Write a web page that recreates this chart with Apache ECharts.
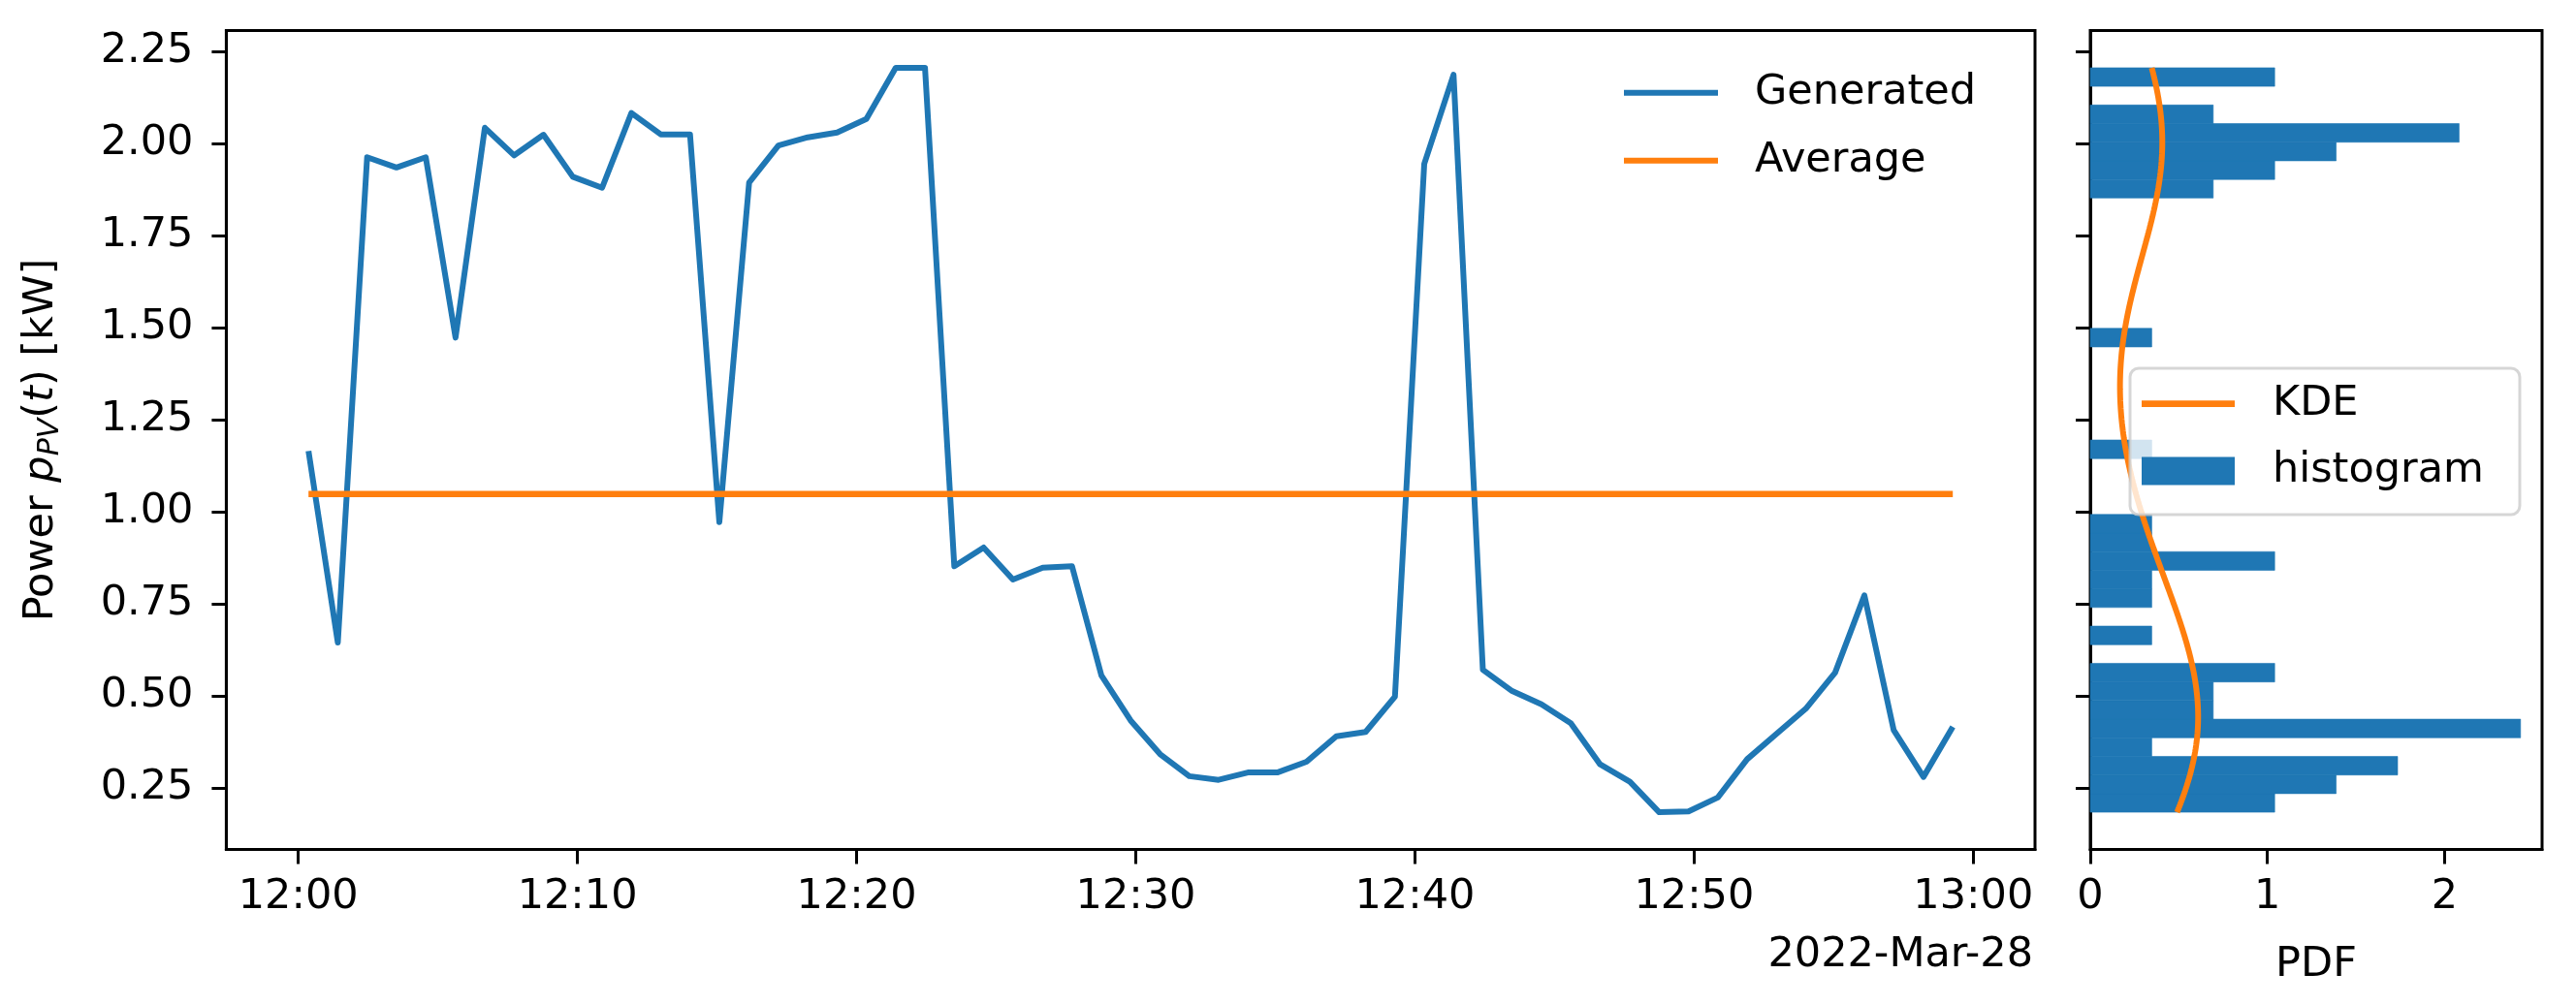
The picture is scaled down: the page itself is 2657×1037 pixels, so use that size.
<!DOCTYPE html>
<html>
<head>
<meta charset="utf-8">
<script src="https://cdn.jsdelivr.net/npm/echarts@6/dist/echarts.min.js"></script>
<style>
html,body{margin:0;padding:0;background:#fff;}
#chart{width:2657px;height:1037px;}
</style>
</head>
<body>
<div id="chart"></div>
<script>
// ---------------- data ----------------
const dateLabel = '2022-Mar-28';
const times = [
  '12:00:22','12:01:25','12:02:28','12:03:31','12:04:34','12:05:38','12:06:41','12:07:44','12:08:47','12:09:50',
  '12:10:53','12:11:56','12:12:59','12:14:02','12:15:05','12:16:09','12:17:12','12:18:15','12:19:18','12:20:21',
  '12:21:24','12:22:27','12:23:30','12:24:33','12:25:36','12:26:40','12:27:43','12:28:46','12:29:49','12:30:52',
  '12:31:55','12:32:58','12:34:01','12:35:04','12:36:07','12:37:11','12:38:14','12:39:17','12:40:20','12:41:23',
  '12:42:26','12:43:29','12:44:32','12:45:35','12:46:38','12:47:42','12:48:45','12:49:48','12:50:51','12:51:54',
  '12:52:57','12:54:00','12:55:03','12:56:06','12:57:09','12:58:13','12:59:16'
];
const power = [
  1.165,0.645,1.963,1.935,1.963,1.473,2.043,1.968,2.024,1.910,
  1.880,2.083,2.025,2.025,0.972,1.894,1.995,2.017,2.030,2.067,
  2.206,2.206,0.852,0.903,0.816,0.848,0.852,0.556,0.433,0.342,
  0.282,0.272,0.292,0.292,0.321,0.390,0.402,0.498,1.945,2.187,
  0.571,0.513,0.477,0.426,0.314,0.267,0.184,0.186,0.224,0.328,
  0.397,0.465,0.563,0.773,0.407,0.280,0.416
];
const xTickLabels = ['12:00','12:10','12:20','12:30','12:40','12:50','13:00'];
const yTicks = [0.25,0.50,0.75,1.00,1.25,1.50,1.75,2.00,2.25];
const pdfTicks = [0,1,2];
const seriesNames = ['Generated','Average','KDE','histogram'];
const histBins = 40;

// ---------------- derived ----------------
const FONT = 'DejaVu Sans';
const BLUE = '#1f77b4', ORANGE = '#ff7f0e';
function toMs(hms){ const p = hms.split(':').map(Number); return Date.UTC(2022,2,28,p[0],p[1],p[2]||0); }
const tMs = times.map(toMs);
const genData = tMs.map((t,i)=>[t,power[i]]);
const n = power.length;
const mean = power.reduce((a,b)=>a+b,0)/n;
const avgData = [[tMs[0],mean],[tMs[n-1],mean]];

const pMin = Math.min(...power), pMax = Math.max(...power);
const yPad = (pMax-pMin)*0.05;
const yMin = pMin-yPad, yMax = pMax+yPad;
const tMin = tMs[0], tMax = tMs[n-1];
const xPad = (tMax-tMin)*0.05;
const xTickVals = xTickLabels.map(l=>toMs(l+':00'));

// histogram (density)
const bw = (pMax-pMin)/histBins;
const counts = new Array(histBins).fill(0);
power.forEach(v=>{ let k = Math.floor((v-pMin)/bw); if(k>=histBins) k = histBins-1; if(k<0) k=0; counts[k]++; });
const histData = [];
counts.forEach((c,k)=>{ if(c>0) histData.push([pMin+k*bw, pMin+(k+1)*bw, c/(n*bw)]); });
const maxDens = Math.max(...histData.map(d=>d[2]));

// Gaussian KDE (Scott's rule)
const variance = power.reduce((a,v)=>a+(v-mean)*(v-mean),0)/(n-1);
const h = Math.sqrt(variance)*Math.pow(n,-1/5);
const kdeData = [];
const NK = 200;
for(let i=0;i<NK;i++){
  const y = pMin+(pMax-pMin)*i/(NK-1);
  let s = 0;
  for(const v of power){ const z=(y-v)/h; s += Math.exp(-0.5*z*z); }
  kdeData.push([s/(n*h*Math.sqrt(2*Math.PI)), y]);
}

// ---------------- chart ----------------
const chart = echarts.init(document.getElementById('chart'), null, {renderer:'canvas'});
const axisLineStyle = {show:true, onZero:false, lineStyle:{color:'#000', width:3}};
const tickStyle = {show:true, length:15, inside:false, lineStyle:{color:'#000', width:3}};
const labelFont = {fontFamily:FONT, fontSize:43, color:'#000'};

const option = {
  animation:false,
  backgroundColor:'#fff',
  title:{
    text:dateLabel, right:560, top:964, padding:0,
    textStyle:{fontFamily:FONT, fontSize:43, fontWeight:'normal', color:'#000'}
  },
  grid:[
    {left:233.4, top:31.5, width:1865.6, height:845, show:true, borderColor:'#000', borderWidth:3, backgroundColor:'transparent'},
    {left:2156, top:31.5, width:466, height:845, show:true, borderColor:'#000', borderWidth:3, backgroundColor:'transparent'}
  ],
  xAxis:[
    {type:'value', gridIndex:0, min:tMin-xPad, max:tMax+xPad,
     axisLine:axisLineStyle, splitLine:{show:false},
     axisTick:Object.assign({}, tickStyle, {customValues:xTickVals}),
     axisLabel:Object.assign({}, labelFont, {margin:28, customValues:xTickVals,
       formatter:(v)=>{ const i = xTickVals.indexOf(v); return i>=0 ? xTickLabels[i] : ''; }})},
    {type:'value', gridIndex:1, min:0, max:maxDens*1.05,
     name:'PDF', nameLocation:'middle', nameGap:98,
     nameTextStyle:{fontFamily:FONT, fontSize:43, color:'#000'},
     axisLine:axisLineStyle, splitLine:{show:false},
     axisTick:Object.assign({}, tickStyle, {customValues:pdfTicks}),
     axisLabel:Object.assign({}, labelFont, {margin:28, customValues:pdfTicks, formatter:(v)=>String(v)})}
  ],
  yAxis:[
    {type:'value', gridIndex:0, min:yMin, max:yMax,
     name:'Power {it|p}{sub|PV}({it|t}) [kW]', nameLocation:'middle', nameGap:166, nameRotate:90,
     nameTextStyle:{fontFamily:FONT, fontSize:43, color:'#000', lineHeight:50,
       rich:{
         it:{fontFamily:FONT, fontSize:43, fontStyle:'italic', color:'#000', lineHeight:50},
         sub:{fontFamily:FONT, fontSize:30, fontStyle:'italic', color:'#000', lineHeight:36, verticalAlign:'bottom'}
       }},
     axisLine:axisLineStyle, splitLine:{show:false},
     axisTick:Object.assign({}, tickStyle, {customValues:yTicks}),
     axisLabel:Object.assign({}, labelFont, {margin:34, customValues:yTicks, formatter:(v)=>v.toFixed(2)})},
    {type:'value', gridIndex:1, min:yMin, max:yMax,
     axisLine:axisLineStyle, splitLine:{show:false},
     axisTick:Object.assign({}, tickStyle, {customValues:yTicks}),
     axisLabel:{show:false}}
  ],
  legend:[
    {data:[
       {name:seriesNames[0], icon:'rect', itemStyle:{color:BLUE, borderWidth:0}},
       {name:seriesNames[1], icon:'rect', itemStyle:{color:ORANGE, borderWidth:0}}
     ],
     orient:'vertical', left:1675, top:70.7, padding:0, itemWidth:97, itemHeight:6, itemGap:20,
     selectedMode:false,
     textStyle:{fontFamily:FONT, fontSize:43, color:'#000', lineHeight:50, padding:[0,0,0,33]}},
    {data:[
       {name:seriesNames[2], icon:'path://M0,0H100V7H0Z', itemStyle:{color:ORANGE, borderWidth:0}},
       {name:seriesNames[3], icon:'rect', itemStyle:{color:BLUE, borderWidth:0}}
     ],
     orient:'vertical', left:2197, top:380, padding:[11.7,37,20,12], itemWidth:96, itemHeight:29, itemGap:19.3,
     backgroundColor:'rgba(255,255,255,0.8)', borderColor:'rgba(204,204,204,0.8)', borderWidth:3, borderRadius:9,
     selectedMode:false,
     textStyle:{fontFamily:FONT, fontSize:43, color:'#000', lineHeight:50, padding:[0,0,0,34]}}
  ],
  series:[
    {name:seriesNames[0], type:'line', xAxisIndex:0, yAxisIndex:0, data:genData,
     symbol:'none', showSymbol:false, smooth:false, z:2,
     itemStyle:{color:BLUE}, lineStyle:{color:BLUE, width:6, join:'round'}},
    {name:seriesNames[1], type:'line', xAxisIndex:0, yAxisIndex:0, data:avgData,
     symbol:'none', showSymbol:false, z:3,
     itemStyle:{color:ORANGE}, lineStyle:{color:ORANGE, width:6.5}},
    {name:seriesNames[3], type:'custom', xAxisIndex:1, yAxisIndex:1, data:histData,
     dimensions:['lo','hi','density'], encode:{x:2, y:[0,1]}, z:2,
     itemStyle:{color:BLUE},
     renderItem:function(params, api){
       const lo = api.value(0), hi = api.value(1), d = api.value(2);
       const p0 = api.coord([0, hi]);
       const p1 = api.coord([d, lo]);
       return {type:'rect',
         shape:{x:p0[0], y:p0[1], width:p1[0]-p0[0], height:p1[1]-p0[1]},
         style:{fill:BLUE, stroke:BLUE, lineWidth:0.6}};
     }},
    {name:seriesNames[2], type:'line', xAxisIndex:1, yAxisIndex:1, data:kdeData,
     symbol:'none', showSymbol:false, z:3,
     itemStyle:{color:ORANGE}, lineStyle:{color:ORANGE, width:6}}
  ]
};
chart.setOption(option);
</script>
</body>
</html>
